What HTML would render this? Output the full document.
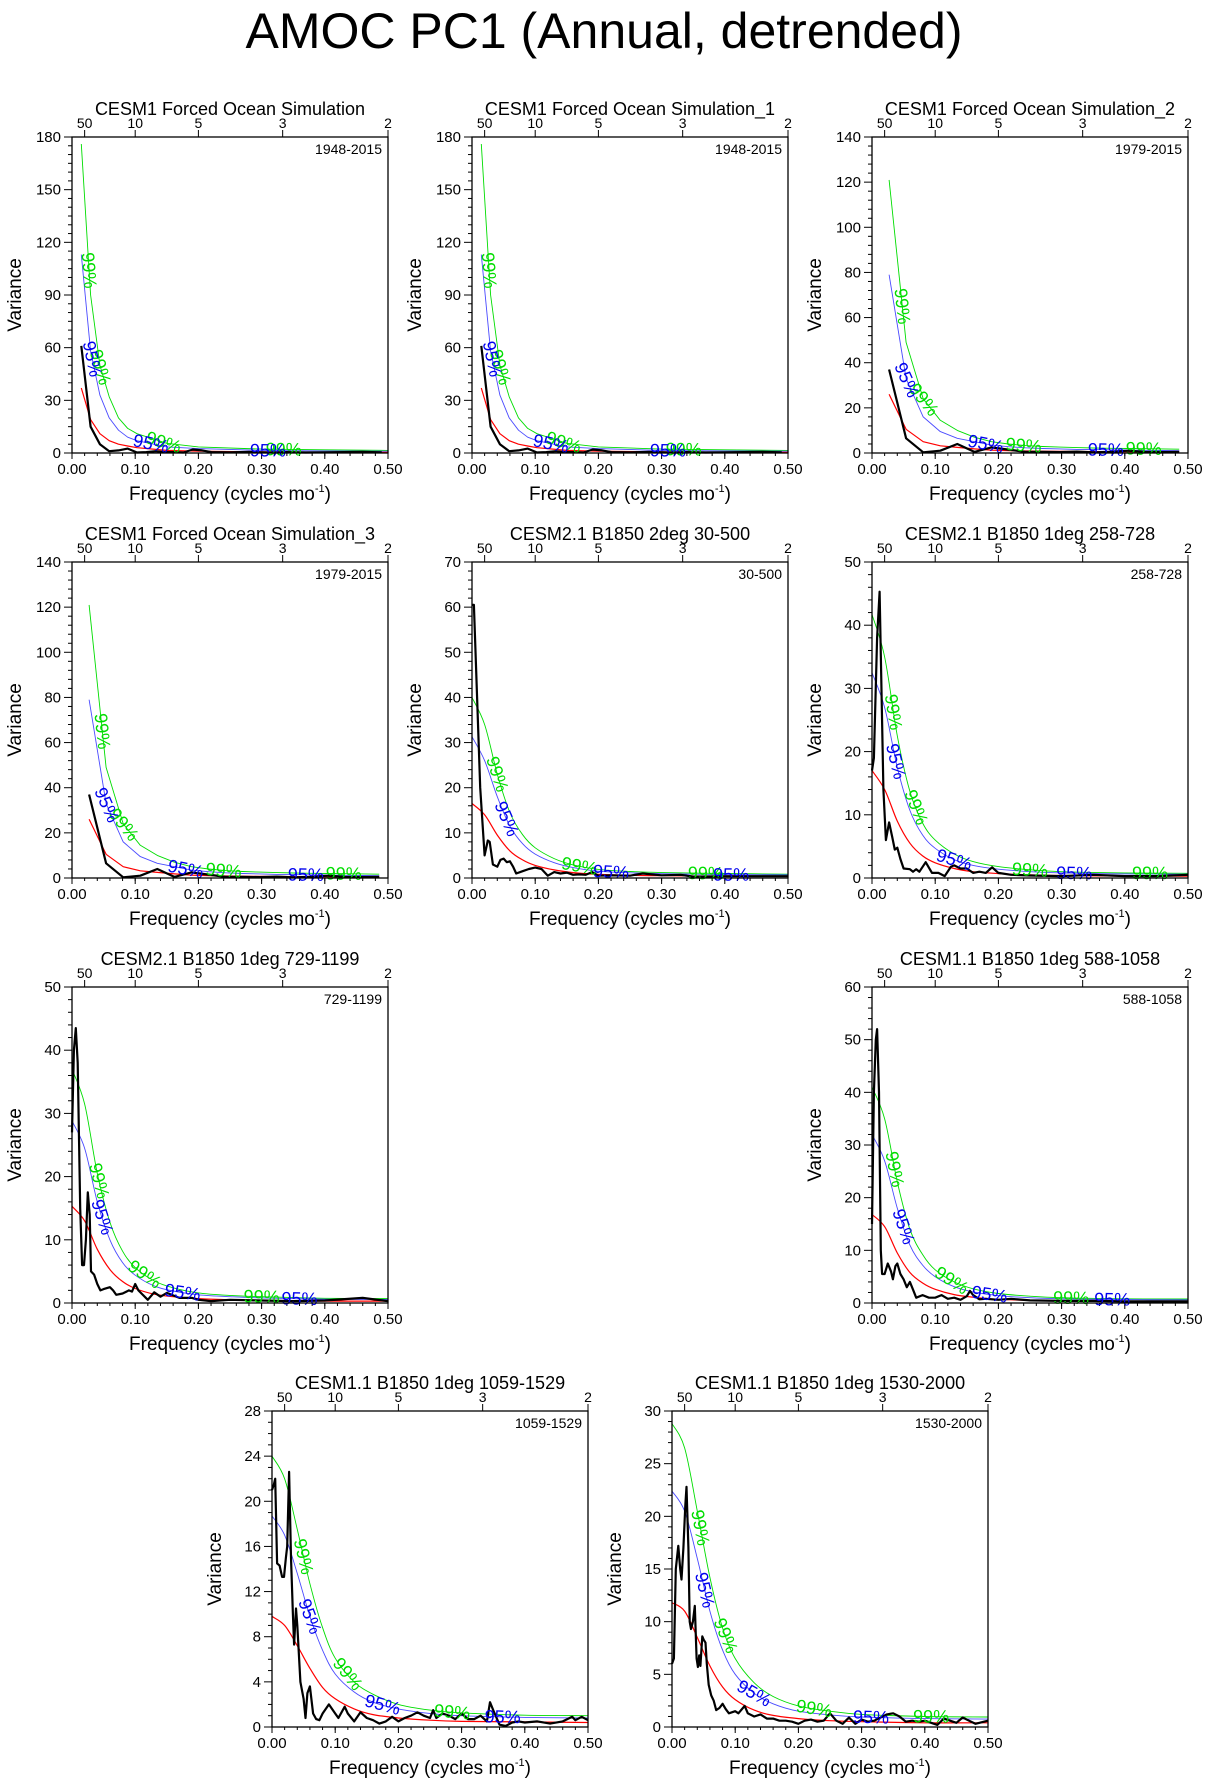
<!DOCTYPE html>
<html><head><meta charset="utf-8">
<style>
html,body{margin:0;padding:0;background:#fff;}
svg{display:block;font-family:"Liberation Sans",sans-serif;}
</style></head>
<body>
<svg id="fig" width="1208" height="1786" viewBox="0 0 1208 1786" xmlns="http://www.w3.org/2000/svg">
<text x="604" y="48" font-size="50" text-anchor="middle" fill="#000">AMOC PC1 (Annual, detrended)</text>
</svg>
<script>
// ---------- data ----------
const periodTicks = [50, 10, 5, 3, 2];
const xTickVals = [0, 0.1, 0.2, 0.3, 0.4, 0.5];
const xTickLabels = ["0.00", "0.10", "0.20", "0.30", "0.40", "0.50"];
const smoothFreq = [0, 0.02, 0.04, 0.06, 0.08, 0.10, 0.13, 0.16, 0.20, 0.25, 0.30, 0.40, 0.50];

// Panel A (1948-2015)
const aFreq = [0.0147,0.0294,0.0441,0.0588,0.0735,0.0882,0.1029,0.1176,0.1324,0.1471,0.1618,0.1765,0.1912,0.2059,0.2206,0.25,0.28,0.31,0.34,0.37,0.40,0.43,0.46,0.49];
const aBlack = [61,15,5,1,1.5,2.5,0.3,0.5,1,0.5,0.5,0.3,2,1.5,0.5,0.4,0.6,0.3,0.5,0.3,0.4,0.5,0.6,0.4];
const aRedF = [0.0147,0.0294,0.0441,0.0588,0.0735,0.0882,0.1029,0.15,0.20,0.30,0.40,0.50];
const aRed = [37,19,11,7,5,4,3,1.5,1,0.6,0.45,0.4];
const aBlue = [113,58,33,20,13,9,7,3.5,2.5,1.5,1.2,1];
const aGreen = [176,90,50,32,20,14,11,5.5,3.5,2.2,1.8,1.5];

// Panel B (1979-2015)
const bFreq = [0.027,0.054,0.081,0.108,0.135,0.162,0.189,0.216,0.243,0.27,0.297,0.324,0.351,0.378,0.405,0.432,0.459,0.486];
const bBlack = [37,6.5,0.3,1,4,0.5,2.5,1.5,0.5,0.5,0.4,0.6,0.3,0.5,1,0.5,0.4,0.5];
const bRed = [26,10.5,5,3.2,2.5,1.8,1.3,1,0.9,0.8,0.7,0.65,0.6,0.6,0.55,0.5,0.5,0.5];
const bBlue = [79,33,16,9.5,6.5,5,3.5,2.8,2.3,2,1.8,1.6,1.5,1.4,1.3,1.2,1.1,1];
const bGreen = [121,49,24,14.5,10,7,5,4,3.3,2.9,2.6,2.4,2.2,2.1,2,1.9,1.8,1.7];

// Panel C (30-500)
const cFreq = [0,0.003,0.013,0.02,0.025,0.028,0.033,0.04,0.045,0.05,0.055,0.06,0.065,0.07,0.08,0.09,0.1,0.11,0.12,0.13,0.14,0.15,0.16,0.17,0.18,0.19,0.2,0.22,0.25,0.27,0.3,0.33,0.35,0.4,0.45,0.5];
const cBlack = [60.5,60.5,20,5,8.3,8,3,2.5,4,4.3,3.5,3.7,2.5,1,1.5,2,2.3,2,0.5,1.3,1,1.2,0.7,0.8,0.7,1.3,0.5,0.6,0.5,1,0.6,0.7,0.3,0.4,0.4,0.4];
const cRed = [16.5,14,9.5,6,4,2.8,1.8,1.2,0.8,0.6,0.5,0.4,0.35];
const cBlue = [31.3,26,18,11.5,7.6,5.3,3.4,2.3,1.5,1.15,0.95,0.75,0.7];
const cGreen = [40,34,23,14.5,9.6,6.7,4.3,2.9,1.9,1.45,1.2,1,0.85];

// Panel D (258-728)
const dFreq = [0,0.003,0.008,0.012,0.018,0.022,0.027,0.032,0.036,0.04,0.045,0.05,0.06,0.065,0.07,0.075,0.085,0.095,0.105,0.115,0.125,0.13,0.14,0.15,0.16,0.17,0.18,0.19,0.2,0.22,0.25,0.3,0.35,0.4,0.45,0.5];
const dBlack = [17,19,38,45.3,14,6,8.8,6.5,4.5,4.8,3,1.5,1.4,1,1.4,1,2.5,0.8,0.8,0.3,1.8,2,1.5,1.5,0.8,1,0.8,1.7,0.8,0.5,0.4,0.3,0.5,0.3,0.3,0.5];
const dRed = [17,14,9,5.5,3.5,2.4,1.5,1,0.7,0.5,0.4,0.3,0.3];
const dBlue = [32.5,27,17.5,10.7,6.8,4.7,2.9,2,1.4,1,0.8,0.65,0.6];
const dGreen = [41.7,35,22.5,13.7,8.7,6,3.8,2.6,1.8,1.3,1,0.8,0.75];

// Panel E (729-1199)
const eFreq = [0,0.003,0.006,0.009,0.013,0.016,0.019,0.022,0.025,0.028,0.03,0.035,0.04,0.045,0.05,0.06,0.065,0.07,0.08,0.09,0.095,0.1,0.105,0.11,0.12,0.13,0.14,0.15,0.16,0.17,0.18,0.19,0.2,0.22,0.25,0.3,0.35,0.4,0.46,0.5];
const eBlack = [27,40,43.5,38,15,6,6,10,17.5,14,5,4.5,3,2,2.2,2.5,2,1.3,1.5,2,1.8,3,2,1.5,0.5,1.7,1,1.6,1.2,0.8,0.8,0.8,0.5,0.3,0.5,0.4,0.3,0.4,0.8,0.3];
const eRed = [15.3,13,8.5,5.3,3.4,2.3,1.4,1,0.7,0.5,0.4,0.3,0.3];
const eBlue = [28.8,24.5,16,10,6.4,4.4,2.7,1.9,1.3,1,0.8,0.6,0.55];
const eGreen = [37,31.5,20.5,12.8,8.2,5.6,3.5,2.4,1.6,1.2,1,0.75,0.7];

// Panel F (588-1058)
const fFreq = [0,0.003,0.006,0.008,0.011,0.014,0.016,0.02,0.025,0.03,0.033,0.037,0.04,0.045,0.05,0.055,0.06,0.065,0.07,0.08,0.09,0.1,0.11,0.12,0.13,0.14,0.15,0.155,0.16,0.17,0.18,0.2,0.22,0.25,0.3,0.35,0.4,0.45,0.5];
const fBlack = [15,40,50,52,40,10,5.5,5.5,7.5,6,4.5,7,7.5,5.5,4.5,3,4,2.5,1,1.5,1,1,1.5,0.8,1,0.6,1.3,2.3,1.5,0.7,0.8,0.6,0.8,0.5,0.4,0.4,0.3,0.3,0.3];
const fRed = [16.8,14.5,9.5,5.8,3.8,2.6,1.6,1.1,0.7,0.5,0.4,0.35,0.3];
const fBlue = [32,27,18,11,7.2,5,3.1,2.1,1.4,1,0.8,0.65,0.6];
const fGreen = [41,35,23,14,9.2,6.3,4,2.7,1.8,1.3,1,0.8,0.75];

// Panel G (1059-1529)
const gFreq = [0,0.003,0.005,0.008,0.012,0.016,0.019,0.022,0.024,0.027,0.03,0.033,0.035,0.038,0.04,0.045,0.05,0.053,0.056,0.06,0.065,0.07,0.075,0.08,0.09,0.1,0.105,0.115,0.12,0.13,0.14,0.15,0.16,0.17,0.18,0.19,0.2,0.21,0.22,0.23,0.24,0.25,0.255,0.26,0.27,0.28,0.29,0.3,0.31,0.32,0.33,0.34,0.345,0.35,0.36,0.37,0.38,0.39,0.4,0.42,0.44,0.46,0.475,0.48,0.49,0.5];
const gBlack = [21,21.5,22,14.5,14.3,13.3,13.3,15,16,22.6,15,10,7.3,10.5,9,4,2.5,0.8,3,3.6,1.2,0.7,0.6,1.2,2,1.2,0.8,1.8,1.2,0.5,1.3,0.8,0.6,0.3,0.5,0.9,0.5,0.8,1,1.3,1,0.8,1.5,0.8,1.2,1,0.7,1.2,0.7,0.7,1,0.5,2.2,1.5,0.2,0.1,0.4,0.5,0.4,0.5,0.3,0.5,0.9,0.6,0.9,0.6];
const gRed = [9.8,9,7.2,5.2,3.5,2.5,1.6,1.1,0.8,0.6,0.5,0.45,0.4];
const gBlue = [18.7,17,13.6,9.8,6.8,4.7,3.1,2.2,1.6,1.2,1,0.85,0.8];
const gGreen = [24,22,17.5,12.7,8.8,6.1,4,2.9,2,1.5,1.25,1.05,1];

// Panel H (1530-2000)
const hFreq = [0,0.003,0.006,0.01,0.013,0.015,0.018,0.021,0.023,0.026,0.028,0.03,0.033,0.036,0.039,0.041,0.043,0.045,0.048,0.05,0.053,0.055,0.058,0.062,0.066,0.07,0.075,0.08,0.085,0.09,0.1,0.105,0.115,0.12,0.13,0.14,0.15,0.16,0.17,0.18,0.19,0.2,0.21,0.22,0.23,0.24,0.25,0.26,0.27,0.28,0.29,0.3,0.31,0.32,0.34,0.35,0.36,0.37,0.38,0.39,0.4,0.41,0.42,0.43,0.44,0.45,0.46,0.47,0.48,0.5];
const hBlack = [6,6.5,15,17.2,15,14,17,21,22.8,17,10,9.3,10,11.5,6.5,5.7,6.8,5.8,8.6,8.3,8,6,4,3,2.5,1.6,1.8,2.2,1.7,1.3,1.5,1.3,2,1.3,1,1.2,0.8,0.8,0.6,0.6,0.5,0.3,0.6,0.7,0.5,0.6,1.3,0.6,0.3,0.9,0.3,0.7,0.5,0.6,1.2,1.3,1,0.5,0.6,0.5,0.6,0.4,0.2,0.8,0.6,0.4,0.9,0.6,0.3,0.6];
const hRed = [11.8,11,8.5,5.8,3.8,2.6,1.6,1.1,0.8,0.6,0.5,0.4,0.4];
const hBlue = [22.4,20.5,16,11,7.3,5,3.2,2.2,1.5,1.15,0.95,0.8,0.75];
const hGreen = [28.8,26.5,20.5,14.2,9.4,6.5,4.2,2.9,2,1.5,1.2,1,0.95];

// ---------- drawing ----------
const NS = "http://www.w3.org/2000/svg";
const svg = document.getElementById("fig");
const W = 316, H = 316;

function mk(tag, attrs, parent) {
  const e = document.createElementNS(NS, tag);
  for (const k in attrs) e.setAttribute(k, attrs[k]);
  parent.appendChild(e);
  return e;
}

function pathStr(pts, smooth) {
  if (!smooth) return "M" + pts.map(p => p[0].toFixed(1) + "," + p[1].toFixed(1)).join("L");
  let d = "M" + pts[0][0].toFixed(1) + "," + pts[0][1].toFixed(1);
  for (let i = 0; i < pts.length - 1; i++) {
    const p0 = pts[Math.max(0, i - 1)], p1 = pts[i], p2 = pts[i + 1], p3 = pts[Math.min(pts.length - 1, i + 2)];
    const c1x = p1[0] + (p2[0] - p0[0]) / 6, c1y = p1[1] + (p2[1] - p0[1]) / 6;
    const c2x = p2[0] - (p3[0] - p1[0]) / 6, c2y = p2[1] - (p3[1] - p1[1]) / 6;
    d += "C" + c1x.toFixed(1) + "," + c1y.toFixed(1) + " " + c2x.toFixed(1) + "," + c2y.toFixed(1) + " " + p2[0].toFixed(1) + "," + p2[1].toFixed(1);
  }
  return d;
}

function interp(xs, ys, x) {
  if (x <= xs[0]) return ys[0];
  for (let i = 0; i < xs.length - 1; i++) {
    if (x <= xs[i + 1]) { const t = (x - xs[i]) / (xs[i + 1] - xs[i]); return ys[i] + t * (ys[i + 1] - ys[i]); }
  }
  return ys[ys.length - 1];
}

function drawPanel(cfg) {
  const g = mk("g", {}, svg);
  
  
  const L = cfg.x, T = cfg.y;
  const xs = f => L + f / 0.5 * W;
  const ys = v => T + H - v / cfg.ymax * H;

  const st = mk("text", {x: L + W / 2, y: T - 22, "font-size": 18, "text-anchor": "middle"}, g);
  
  
  st.textContent = cfg.title;

  const nMaj = Math.round(cfg.ymax / cfg.ystep);
  const minorStep = cfg.ystep / cfg.minor;
  for (let v = 0; v <= cfg.ymax + 1e-9; v += minorStep) {
    const isMaj = Math.abs(v / cfg.ystep - Math.round(v / cfg.ystep)) < 1e-6;
    mk("line", {x1: L - (isMaj ? 8 : 4), x2: L, y1: ys(v), y2: ys(v), stroke: "#000", "stroke-width": 1}, g);
  }
  for (let i = 0; i <= nMaj; i++) {
    const v = i * cfg.ystep;
    const t = mk("text", {x: L - 11, y: ys(v) + 5, "font-size": 15, "text-anchor": "end"}, g);
    
    
    t.textContent = v;
  }
  xTickVals.forEach((v, i) => {
    mk("line", {x1: xs(v), x2: xs(v), y1: T + H, y2: T + H + 6, stroke: "#000"}, g);
    const t = mk("text", {x: xs(v), y: T + H + 21, "font-size": 15, "text-anchor": "middle"}, g);
    
    
    t.textContent = xTickLabels[i];
  });
  for (let v = 0.02; v < 0.5; v += 0.02) {
    mk("line", {x1: xs(v), x2: xs(v), y1: T + H, y2: T + H + 3, stroke: "#000"}, g);
  }
  periodTicks.forEach(p => {
    const x = xs(1 / p);
    mk("line", {x1: x, x2: x, y1: T, y2: T - 7, stroke: "#000"}, g);
    const t = mk("text", {x: x, y: T - 9, "font-size": 14, "text-anchor": "middle"}, g);
    
    
    t.textContent = p;
  });
  const yt = mk("text", {x: L - 51, y: T + H / 2, "font-size": 19, "text-anchor": "middle", transform: `rotate(-90 ${L - 51} ${T + H / 2})`}, g);
  
  
  yt.textContent = "Variance";
  const xt = mk("text", {x: L + W / 2, y: T + H + 47, "font-size": 19, "text-anchor": "middle"}, g);
  
  
  xt.innerHTML = 'Frequency (cycles mo<tspan dy="-8" font-size="11">-1</tspan><tspan dy="8">)</tspan>';
  const pl = mk("text", {x: L + W - 6, y: T + 17, "font-size": 14, "text-anchor": "end"}, g);
  
  
  pl.textContent = cfg.label;

  const sm = cfg.smooth;
  const series = [
    {name: "green-99-curve", f: cfg.sf, v: cfg.green, c: "#00dd00", w: 0.9},
    {name: "blue-95-curve", f: cfg.sf, v: cfg.blue, c: "#4a4aff", w: 0.9},
    {name: "red-noise-curve", f: cfg.sf, v: cfg.red, c: "#ff0000", w: 1.2},
    {name: "spectrum-line", f: cfg.bf, v: cfg.black, c: "#000", w: 2.2}
  ];
  series.forEach(s => {
    const pts = s.f.map((f, i) => [xs(f), ys(s.v[i])]);
    const p = mk("path", {d: pathStr(pts, sm && s.name !== "spectrum-line"), fill: "none", stroke: s.c, "stroke-width": s.w, "stroke-linejoin": "round"}, g);
    
    
  });
  const labs = [
    {t: "99%", f: cfg.l99, v: cfg.green, c: "#00dd00"},
    {t: "95%", f: cfg.l95, v: cfg.blue, c: "#0000ee"}
  ];
  labs.forEach(lb => {
    lb.f.forEach(fq => {
      const x = xs(fq), y = ys(interp(cfg.sf, lb.v, fq));
      const y2 = ys(interp(cfg.sf, lb.v, fq + 0.004));
      let ang = Math.atan2(y2 - y, xs(fq + 0.004) - x) * 180 / Math.PI;
      const t = mk("text", {x: x, y: y + 6, "font-size": 18, "text-anchor": "middle", fill: lb.c, transform: `rotate(${ang.toFixed(1)} ${x} ${y})`}, g);
      
      
      t.textContent = lb.t;
    });
  });
  mk("rect", {x: L, y: T, width: W, height: H, fill: "none", stroke: "#000", "stroke-width": 1.3}, g);
}

const panels = [
  {id: "cesm1-fos", x: 72, y: 137, title: "CESM1 Forced Ocean Simulation", label: "1948-2015", ymax: 180, ystep: 30, minor: 6, bf: aFreq, black: aBlack, sf: aRedF, red: aRed, blue: aBlue, green: aGreen, smooth: false, l99: [0.027, 0.045, 0.145, 0.335], l95: [0.032, 0.125, 0.31]},
  {id: "cesm1-fos-1", x: 472, y: 137, title: "CESM1 Forced Ocean Simulation_1", label: "1948-2015", ymax: 180, ystep: 30, minor: 6, bf: aFreq, black: aBlack, sf: aRedF, red: aRed, blue: aBlue, green: aGreen, smooth: false, l99: [0.027, 0.045, 0.145, 0.335], l95: [0.032, 0.125, 0.31]},
  {id: "cesm1-fos-2", x: 872, y: 137, title: "CESM1 Forced Ocean Simulation_2", label: "1979-2015", ymax: 140, ystep: 20, minor: 5, bf: bFreq, black: bBlack, sf: bFreq, red: bRed, blue: bBlue, green: bGreen, smooth: false, l99: [0.048, 0.082, 0.24, 0.43], l95: [0.055, 0.18, 0.37]},
  {id: "cesm1-fos-3", x: 72, y: 562, title: "CESM1 Forced Ocean Simulation_3", label: "1979-2015", ymax: 140, ystep: 20, minor: 5, bf: bFreq, black: bBlack, sf: bFreq, red: bRed, blue: bBlue, green: bGreen, smooth: false, l99: [0.048, 0.082, 0.24, 0.43], l95: [0.055, 0.18, 0.37]},
  {id: "cesm21-2deg", x: 472, y: 562, title: "CESM2.1 B1850 2deg 30-500", label: "30-500", ymax: 70, ystep: 10, minor: 5, bf: cFreq, black: cBlack, sf: smoothFreq, red: cRed, blue: cBlue, green: cGreen, smooth: true, l99: [0.04, 0.17, 0.37], l95: [0.055, 0.22, 0.41]},
  {id: "cesm21-1deg-258", x: 872, y: 562, title: "CESM2.1 B1850 1deg 258-728", label: "258-728", ymax: 50, ystep: 10, minor: 5, bf: dFreq, black: dBlack, sf: smoothFreq, red: dRed, blue: dBlue, green: dGreen, smooth: true, l99: [0.034, 0.07, 0.25, 0.44], l95: [0.038, 0.13, 0.32]},
  {id: "cesm21-1deg-729", x: 72, y: 987, title: "CESM2.1 B1850 1deg 729-1199", label: "729-1199", ymax: 50, ystep: 10, minor: 5, bf: eFreq, black: eBlack, sf: smoothFreq, red: eRed, blue: eBlue, green: eGreen, smooth: true, l99: [0.043, 0.115, 0.3], l95: [0.048, 0.175, 0.36]},
  {id: "cesm11-1deg-588", x: 872, y: 987, title: "CESM1.1 B1850 1deg 588-1058", label: "588-1058", ymax: 60, ystep: 10, minor: 5, bf: fFreq, black: fBlack, sf: smoothFreq, red: fRed, blue: fBlue, green: fGreen, smooth: true, l99: [0.036, 0.126, 0.315], l95: [0.05, 0.186, 0.38]},
  {id: "cesm11-1deg-1059", x: 272, y: 1411, title: "CESM1.1 B1850 1deg 1059-1529", label: "1059-1529", ymax: 28, ystep: 4, minor: 4, bf: gFreq, black: gBlack, sf: smoothFreq, red: gRed, blue: gBlue, green: gGreen, smooth: true, l99: [0.05, 0.12, 0.285], l95: [0.06, 0.175, 0.365]},
  {id: "cesm11-1deg-1530", x: 672, y: 1411, title: "CESM1.1 B1850 1deg 1530-2000", label: "1530-2000", ymax: 30, ystep: 5, minor: 5, bf: hFreq, black: hBlack, sf: smoothFreq, red: hRed, blue: hBlue, green: hGreen, smooth: true, l99: [0.045, 0.085, 0.225, 0.41], l95: [0.052, 0.13, 0.315]}
];
panels.forEach(drawPanel);
</script>
</body></html>
